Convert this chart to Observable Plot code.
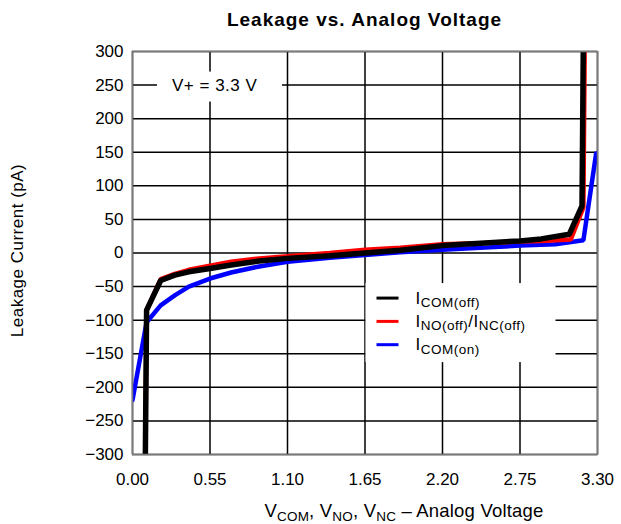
<!DOCTYPE html>
<html><head><meta charset="utf-8">
<script src="https://cdn.jsdelivr.net/npm/d3@7"></script>
<script src="https://cdn.jsdelivr.net/npm/@observablehq/plot@0.6"></script>
<style>
body{margin:0;background:#fff}
svg{font-family:"Liberation Sans",Arial,Helvetica,sans-serif}
</style>
</head><body><div id="chart"></div>
<script>
// ---- data ----
const xTicks = [0.00, 0.55, 1.10, 1.65, 2.20, 2.75, 3.30];
const yTicks = [-300, -250, -200, -150, -100, -50, 0, 50, 100, 150, 200, 250, 300];

const vComOff = [0.09, 0.10, 0.20, 0.30, 0.40, 0.55, 0.70, 0.90, 1.10, 1.40, 1.65, 1.90, 2.20, 2.50, 2.75, 2.90, 3.10, 3.19, 3.20];
const iComOff = [-330, -85, -41, -33, -28, -23, -18, -12, -8, -4, 0, 4, 11, 15, 18, 21, 28, 70, 330];

const vNoOff  = [0.09, 0.10, 0.20, 0.30, 0.40, 0.55, 0.70, 0.90, 1.10, 1.40, 1.65, 1.90, 2.20, 2.50, 2.75, 2.90, 3.11, 3.20, 3.21];
const iNoOff  = [-330, -85, -39, -31, -25, -19, -13, -8, -5, 0, 5, 8, 13, 15, 17, 18, 20, 68, 330];

const vComOn  = [0.00, 0.10, 0.20, 0.30, 0.40, 0.55, 0.70, 0.90, 1.10, 1.40, 1.65, 1.90, 2.20, 2.50, 2.75, 3.00, 3.10, 3.20, 3.29];
const iComOn  = [-219, -103, -78, -63, -50, -38, -29, -20, -13, -7, -3, 1, 5, 8, 11, 13, 16, 19, 148];

const seriesNames  = ["ICOM(on)", "INO(off)/INC(off)", "ICOM(off)"];
const seriesColors = ["#0000ff", "#ff0000", "#000000"];
const seriesWidths = [4.5, 4.5, 5.5];

const rows = [];
[[vComOn, iComOn], [vNoOff, iNoOff], [vComOff, iComOff]].forEach(([vs, is], k) => {
  vs.forEach((v, i) => rows.push({series: seriesNames[k], v, i: is[i]}));
});

const FS = 17;
const tickStyle = {fontSize: FS, letterSpacing: "0.5px"};

const plot = Plot.plot({
  width: 621, height: 524,
  marginLeft: 132, marginRight: 24, marginTop: 51, marginBottom: 70,
  style: {fontFamily: '"Liberation Sans",Arial,sans-serif', fontSize: FS + "px", background: "#fff", color: "#000", overflow: "visible"},
  x: {domain: [0, 3.3]},
  y: {domain: [-300, 300]},
  marks: [
    Plot.gridX(xTicks, {stroke: "#000", strokeOpacity: 1, strokeWidth: 1.5}),
    Plot.gridY(yTicks, {stroke: "#000", strokeOpacity: 1, strokeWidth: 1.5}),
    ...seriesNames.map((s, k) => Plot.line(rows.filter(d => d.series === s), {
      x: "v", y: "i", stroke: seriesColors[k], strokeWidth: seriesWidths[k],
      strokeLinejoin: "miter", clip: true
    })),
    Plot.frame({stroke: "#7a7a7a", strokeWidth: 1.5}),
    Plot.axisX(xTicks, {tickSize: 0, tickPadding: 18, tickFormat: d => d.toFixed(2), label: null, ...tickStyle}),
    Plot.axisY(yTicks, {tickSize: 0, tickPadding: 9, label: null, ...tickStyle})
  ]
});
document.getElementById("chart").appendChild(plot);

// ---- annotations (text with subscripts) ----
const svg = d3.select(plot);
const X = plot.scale("x").apply, Y = plot.scale("y").apply;
const W = 621;
const ann = svg.append("g").attr("fill", "#000").attr("font-size", FS)
  .attr("letter-spacing", "0.5px").attr("text-anchor", "start");

function richText(parent, parts, x, y, anchor, subSize, shift) {
  const t = parent.append("text").attr("x", x).attr("y", y).attr("text-anchor", anchor || "start");
  let shifted = false;
  parts.forEach(([str, sub]) => {
    const ts = t.append("tspan").text(str);
    if (sub) ts.attr("font-size", subSize);
    if (sub && !shifted) { ts.attr("dy", shift); shifted = true; }
    else if (!sub && shifted) { ts.attr("dy", -shift); shifted = false; }
  });
  return t;
}

// title
ann.append("text").attr("x", (132 + W - 24) / 2).attr("y", 26).attr("text-anchor", "middle")
  .attr("font-weight", "bold").attr("font-size", 19).attr("letter-spacing", "1px")
  .text("Leakage vs. Analog Voltage");

// y label
ann.append("text").attr("transform", "translate(23,250.5) rotate(-90)").attr("text-anchor", "middle")
  .text("Leakage Current (pA)");

// x label
richText(ann, [["V"], ["COM", 1], [", V"], ["NO", 1], [", V"], ["NC", 1], [" \u2013 Analog Voltage"]],
  404, 517, "middle", 13.5, 3.5).attr("font-size", 18.5).attr("letter-spacing", "0.2px");

// V+ label with white box
const vx = X(0.284), vy = Y(250);
ann.append("rect").attr("x", vx - 15).attr("y", vy - 13).attr("width", 125).attr("height", 30).attr("fill", "#fff");
ann.append("text").attr("x", vx).attr("y", vy + 6).attr("text-anchor", "start").text("V+ = 3.3 V");

// legend
const lx = X(1.65) + 1, ly = Y(-50) - 3;
const lg = ann.append("g");
lg.append("rect").attr("x", lx).attr("y", ly).attr("width", 190).attr("height", 79).attr("fill", "#fff");
const legendItems = [
  {color: seriesColors[2], parts: [["I"], ["COM(off)", 1]]},
  {color: seriesColors[1], parts: [["I"], ["NO(off)", 1], ["/I"], ["NC(off)", 1]]},
  {color: seriesColors[0], parts: [["I"], ["COM(on)", 1]]}
];
legendItems.forEach((it, k) => {
  const cy = ly + 15 + k * 23.3;
  lg.append("line").attr("x1", lx + 11).attr("x2", lx + 33).attr("y1", cy).attr("y2", cy)
    .attr("stroke", it.color).attr("stroke-width", 3);
  richText(lg, it.parts, lx + 50, cy + 5.5, "start", 13.5, 3.5);
});
</script>
</body></html>
